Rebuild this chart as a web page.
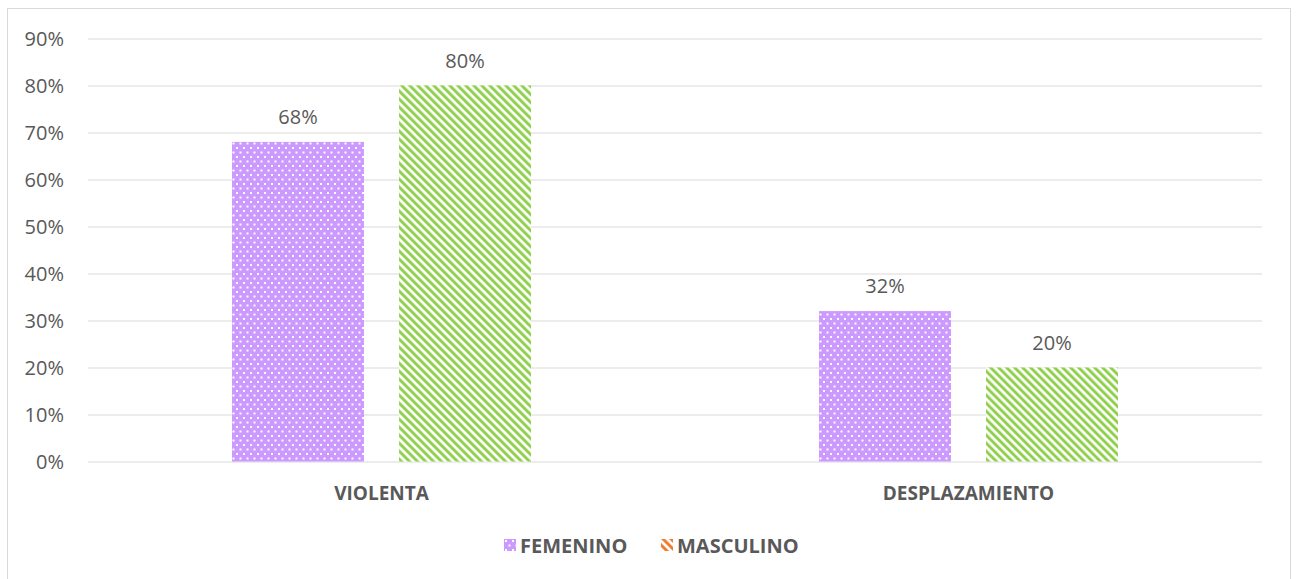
<!DOCTYPE html>
<html>
<head>
<meta charset="utf-8">
<script src="https://cdn.jsdelivr.net/npm/d3@7"></script>
<style>
  body { margin: 0; background: #fff; }
  text { font-family: 'Open Sans', 'Noto Sans', sans-serif; fill: #595959; }
</style>
</head>
<body>
<div id="chart"></div>
<script>
'use strict'

// Data
const categories = ['VIOLENTA', 'DESPLAZAMIENTO']
const seriesNames = ['FEMENINO', 'MASCULINO']
const femenino = [0.68, 0.32]
const masculino = [0.80, 0.20]
const yTicks = [0, 0.1, 0.2, 0.3, 0.4, 0.5, 0.6, 0.7, 0.8, 0.9]

const dataset = categories.map((c, i) => ({
  category: c,
  values: [
    { series: seriesNames[0], value: femenino[i] },
    { series: seriesNames[1], value: masculino[i] },
  ],
}))

function draw() {
  const dimensions = {
    width: 1296,
    height: 579,
    margin: { top: 38, right: 34, bottom: 118, left: 88 },
  }
  dimensions.containerWidth =
    dimensions.width - dimensions.margin.left - dimensions.margin.right
  dimensions.containerHeight =
    dimensions.height - dimensions.margin.top - dimensions.margin.bottom

  const svg = d3
    .select('#chart')
    .append('svg')
    .attr('width', dimensions.width)
    .attr('height', dimensions.height)

  // Patterns
  const defs = svg.append('defs')

  const dots = defs
    .append('pattern')
    .attr('id', 'dots')
    .attr('patternUnits', 'userSpaceOnUse')
    .attr('width', 7)
    .attr('height', 9)
  dots.append('rect').attr('width', 7).attr('height', 9).attr('fill', '#cc99ff')
  dots.append('rect').attr('x', 1).attr('y', 1).attr('width', 2).attr('height', 2).attr('fill', '#fff')
  dots.append('rect').attr('x', 4.5).attr('y', 5.5).attr('width', 2).attr('height', 2).attr('fill', '#fff')

  function stripes(id, color) {
    const p = defs
      .append('pattern')
      .attr('id', id)
      .attr('patternUnits', 'userSpaceOnUse')
      .attr('width', 5.66)
      .attr('height', 10)
      .attr('patternTransform', 'rotate(-45)')
    p.append('rect').attr('width', 5.66).attr('height', 10).attr('fill', '#fff')
    p.append('rect').attr('width', 3).attr('height', 10).attr('fill', color)
  }
  stripes('stripesGreen', '#92d050')
  stripes('stripesOrange', '#ed7d31')

  const fills = { FEMENINO: 'url(#dots)', MASCULINO: 'url(#stripesGreen)' }
  const legendFills = { FEMENINO: 'url(#dots)', MASCULINO: 'url(#stripesOrange)' }

  // Chart frame
  svg
    .append('rect')
    .attr('x', 7.5)
    .attr('y', 8.5)
    .attr('width', 1283)
    .attr('height', 600)
    .attr('fill', 'none')
    .attr('stroke', '#d9d9d9')

  const container = svg
    .append('g')
    .attr('transform', `translate(${dimensions.margin.left}, ${dimensions.margin.top})`)

  // Scales
  const xScale = d3
    .scaleBand()
    .domain(categories)
    .range([0, dimensions.containerWidth])

  const innerScale = d3
    .scaleBand()
    .domain(seriesNames)
    .range([xScale.bandwidth() / 2 - 149.5, xScale.bandwidth() / 2 + 149.5])
    .paddingInner(0.21)

  const yScale = d3
    .scaleLinear()
    .domain([0, 0.9])
    .range([dimensions.containerHeight + 0.5, 0.5])

  // Gridlines + Y axis
  const yAxis = d3
    .axisLeft(yScale)
    .tickValues(yTicks)
    .tickSize(-dimensions.containerWidth)
    .tickPadding(24)
    .tickFormat(d3.format('.0%'))

  const yAxisGroup = container.append('g').call(yAxis)
  yAxisGroup.select('.domain').remove()
  yAxisGroup.selectAll('line').attr('stroke', '#d9d9d9')
  yAxisGroup
    .selectAll('text')
    .style('font-size', '20px')
    .attr('fill', '#595959')
    .attr('dy', '0.34em')

  // Bars
  const groups = container
    .selectAll('g.cat')
    .data(dataset)
    .join('g')
    .attr('class', 'cat')
    .attr('transform', (d) => `translate(${xScale(d.category)}, 0)`)

  groups
    .selectAll('rect')
    .data((d) => d.values)
    .join('rect')
    .attr('x', (d) => innerScale(d.series))
    .attr('y', (d) => yScale(d.value))
    .attr('width', innerScale.bandwidth())
    .attr('height', (d) => yScale(0) - yScale(d.value))
    .attr('fill', (d) => fills[d.series])

  groups
    .selectAll('text.label')
    .data((d) => d.values)
    .join('text')
    .attr('class', 'label')
    .attr('x', (d) => innerScale(d.series) + innerScale.bandwidth() / 2)
    .attr('y', (d) => yScale(d.value) - 18)
    .attr('text-anchor', 'middle')
    .style('font-size', '20px')
    .text((d) => d3.format('.0%')(d.value))

  // X labels
  container
    .selectAll('text.xlabel')
    .data(categories)
    .join('text')
    .attr('class', 'xlabel')
    .attr('x', (d) => xScale(d) + xScale.bandwidth() / 2)
    .attr('y', dimensions.containerHeight + 39)
    .attr('text-anchor', 'middle')
    .style('font-size', '19px')
    .style('font-weight', 'bold')
    .text((d) => d)

  // Legend
  const legendX = [504, 661]
  const legend = svg
    .selectAll('g.legend')
    .data(seriesNames)
    .join('g')
    .attr('class', 'legend')
    .attr('transform', (d, i) => `translate(${legendX[i]}, 539)`)

  legend
    .append('rect')
    .attr('width', 12)
    .attr('height', 12)
    .attr('fill', (d) => legendFills[d])

  legend
    .append('text')
    .attr('x', 16)
    .attr('y', 13.5)
    .style('font-size', '20px')
    .style('font-weight', 'bold')
    .text((d) => d)
}

draw()
</script>
</body>
</html>
